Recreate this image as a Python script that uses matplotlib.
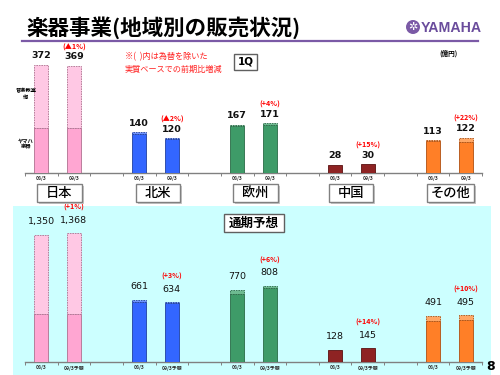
import matplotlib
matplotlib.use("Agg")
import matplotlib.pyplot as plt
from matplotlib.patches import Rectangle, Ellipse

plt.rcParams['font.family'] = ['Noto Sans CJK JP', 'DejaVu Sans']

# ---- data ----
regions = ['日本', '北米', '欧州', '中国', 'その他']
q1_prev = [372, 140, 167, 28, 113]
q1_curr = [369, 120, 171, 30, 122]
q1_prev_base = [155, 135, 162, 28, 111]   # ヤマハ楽器 portion
q1_curr_base = [155, 118, 164, 30, 108]
q1_pct = ['(▲1%)', '(▲2%)', '(+4%)', '(+15%)', '(+22%)']
q1_ticks = ['08/3', '09/3']

fy_prev = [1350, 661, 770, 128, 491]
fy_curr = [1368, 634, 808, 145, 495]
fy_prev_base = [510, 643, 724, 128, 438]
fy_curr_base = [510, 630, 783, 145, 449]
fy_pct = ['(+1%)', '(+3%)', '(+6%)', '(+14%)', '(+10%)']
fy_ticks = ['08/3', '09/3予想']
fy_prev_labels = ['1,350', '661', '770', '128', '491']
fy_curr_labels = ['1,368', '634', '808', '145', '495']

colors = ['#FFA6D2', '#3366FF', '#3E9B68', '#8E2323', '#FF7F27']
light = ['#FFC8E4', '#6E92FF', '#6DBA90', '#B04A4A', '#FFA765']
edges = ['#B07090', '#2040A0', '#2A6A46', '#5A1010', '#B05010']

W, H = 500, 375
fig = plt.figure(figsize=(5, 3.75), dpi=100)
fig.patch.set_facecolor('white')


def px(x, y):
    return x / W, 1 - y / H


def rect_px(x0, y0, x1, y1, **kw):
    a, b = px(x0, y1)
    r = Rectangle((a, b), (x1 - x0) / W, (y1 - y0) / H, transform=fig.transFigure, **kw)
    fig.patches.append(r)
    return r


# cyan background for full-year panel
rect_px(13, 206, 491, 375, facecolor='#CCFFFF', edgecolor='none', zorder=-5)

# title and header
fig.text(*px(26, 28), '楽器事業(地域別の販売状況)', fontsize=15.5, fontweight='bold',
         va='center', ha='left', color='black')
fig.add_artist(plt.Line2D([22 / W, 478 / W], [1 - 40.5 / H, 1 - 40.5 / H],
                          transform=fig.transFigure, color='#7B5AA6', lw=1.6))
cx, cy = px(413, 27)
fig.patches.append(Ellipse((cx, cy), 14 / W, 14 / H, transform=fig.transFigure,
                           facecolor='#7B5AA6', edgecolor='none'))
fig.text(cx, cy, '✲', fontsize=8, color='white', ha='center', va='center',
         family=['DejaVu Sans'])
fig.text(*px(421, 27.5), 'YAMAHA', fontsize=10.2, fontweight='bold', color='#6A4C9C',
         ha='left', va='center', family=['Liberation Sans', 'DejaVu Sans'])

slots = [0, 1, 3, 4, 6, 7, 9, 10, 12, 13]
bw = 0.43


def panel(ax, prev, curr, pbase, cbase, pct, ticks, plabels, clabels, bold, num_off, pct_off):
    xs = [s + 0.5 for s in slots]
    tick_labels = []
    for i in range(5):
        for j, (val, base, lab) in enumerate(((prev[i], pbase[i], plabels[i]),
                                              (curr[i], cbase[i], clabels[i]))):
            x = xs[2 * i + j]
            ax.bar(x, base, width=bw, color=colors[i], edgecolor=edges[i], lw=0.6, zorder=3)
            if val - base > 0:
                ax.bar(x, val - base, bottom=base, width=bw, color=light[i],
                       edgecolor=edges[i], lw=0.6, linestyle=(0, (2, 1)), zorder=3)
            ax.annotate(lab, (x, val), xytext=(0, num_off), textcoords='offset points',
                        ha='center', va='center', fontsize=6.8,
                        fontweight='bold' if bold else 'normal', color='#111111',
                        family=['DejaVu Sans'])
            tick_labels.append(ticks[j])
        ax.annotate(pct[i], (xs[2 * i + 1], curr[i]), xytext=(0, pct_off),
                    textcoords='offset points', ha='center', va='center',
                    fontsize=5.1, fontweight='bold', color='#FF0000')
    ax.set_xlim(0, 14)
    ax.set_xticks(xs)
    ax.set_xticklabels(tick_labels, fontsize=3.6, fontweight='bold', color='#333333')
    ax.set_xticks(range(0, 15), minor=True)
    ax.tick_params(axis='x', which='major', length=0, pad=2.5)
    ax.tick_params(axis='x', which='minor', length=2.5, color='#808080', width=0.7)
    ax.set_yticks([])
    for s in ('top', 'right', 'left'):
        ax.spines[s].set_visible(False)
    ax.spines['bottom'].set_color('#808080')
    ax.spines['bottom'].set_linewidth(1.0)
    ax.patch.set_visible(False)


q1_labels_prev = [str(v) for v in q1_prev]
q1_labels_curr = [str(v) for v in q1_curr]

ax1 = fig.add_axes([25 / W, 1 - 173 / H, 457 / W, 128 / H])
ax1.set_ylim(0, 441)
panel(ax1, q1_prev, q1_curr, q1_prev_base, q1_curr_base, q1_pct, q1_ticks,
      q1_labels_prev, q1_labels_curr, True, 6.5, 13.5)

ax2 = fig.add_axes([25 / W, 1 - 362 / H, 457 / W, 155 / H])
ax2.set_ylim(0, 1648)
panel(ax2, fy_prev, fy_curr, fy_prev_base, fy_curr_base, fy_pct, fy_ticks,
      fy_prev_labels, fy_curr_labels, False, 9.5, 18.5)

# region label boxes
box_x = [(37, 82), (136, 180), (233, 278), (329, 373), (427, 474)]
for (x0, x1), name in zip(box_x, regions):
    rect_px(x0 + 1.5, 185.5, x1 + 1.5, 203.5, facecolor='#C8C8C8', edgecolor='none', zorder=1)
    rect_px(x0, 184, x1, 202, facecolor='white', edgecolor='#808080', lw=1.0, zorder=2)
    fig.text(*px((x0 + x1) / 2, 193), name, fontsize=9.5, fontweight='medium',
             ha='center', va='center', zorder=3)

# 1Q box
rect_px(234, 54, 257, 70, facecolor='white', edgecolor='#606060', lw=1.0, zorder=2)
fig.text(*px(245.5, 62), '1Q', fontsize=7.5, fontweight='bold', ha='center', va='center',
         zorder=3, family=['DejaVu Sans'])

# 通期予想 box
rect_px(224, 214, 284, 232, facecolor='white', edgecolor='#606060', lw=1.0, zorder=2)
fig.text(*px(254, 223), '通期予想', fontsize=9, fontweight='bold', ha='center', va='center',
         zorder=3)

# notes
fig.text(*px(125, 57), '※(  )内は為替を除いた', fontsize=5.9, color='#FF2020',
         ha='left', va='center')
fig.text(*px(125, 69), '実質ベースでの前期比増減', fontsize=5.9, color='#FF2020',
         ha='left', va='center')
fig.text(*px(448, 53), '(億円)', fontsize=4.8, fontweight='bold', ha='center', va='center')
fig.text(*px(26, 94), '音楽教室\n他', fontsize=3.8, fontweight='bold', ha='center',
         va='center', linespacing=1.2)
fig.text(*px(26, 144), 'ヤマハ\n楽器', fontsize=3.8, fontweight='bold', ha='center',
         va='center', linespacing=1.2)
fig.text(*px(491, 366), '8', fontsize=9, fontweight='bold', ha='center', va='center',
         family=['DejaVu Sans'])

fig.savefig('out.png', dpi=100)
